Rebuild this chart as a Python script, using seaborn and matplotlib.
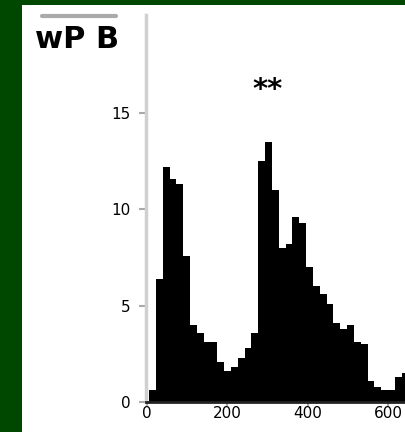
import numpy as np
import pandas as pd
import matplotlib
matplotlib.use("Agg")
import matplotlib.pyplot as plt
from matplotlib.patches import Rectangle
from matplotlib.lines import Line2D
import seaborn as sns

# histogram (bin width ~17, first bin at 5)
bin_start = 5
bin_width = 17
counts = [0.6, 6.4, 12.2, 11.6, 11.3, 7.6, 4.0, 3.6, 3.1, 3.1,
          2.1, 1.6, 1.8, 2.3, 2.8, 3.6, 12.5, 13.5, 11.0, 8.0,
          8.2, 9.6, 9.3, 7.0, 6.0, 5.6, 5.1, 4.1, 3.8, 4.0,
          3.1, 3.0, 1.1, 0.8, 0.6, 0.6, 1.3, 1.5, 2.0]
x_ticks = [0, 200, 400, 600]
y_ticks = [0, 5, 10, 15]
title = "wP B"
sig_label = "**"
sig_pos = (301, 16.2)

edges = bin_start + bin_width * np.arange(len(counts) + 1)
df = pd.DataFrame({"value": edges[:-1] + bin_width / 2, "count": counts})

sns.set_style("white")
fig = plt.figure(figsize=(4.05, 4.32), dpi=100)
fig.patch.set_facecolor("#004800")
fig.patches.append(Rectangle((22 / 405, 0), 1, 1 - 5 / 432, transform=fig.transFigure,
                             facecolor="white", edgecolor="none", zorder=-1))

ax = fig.add_axes([146 / 405, 1 - 402 / 432, 1 - 146 / 405, (402 - 15) / 432])
ax.set_zorder(2)
ax.set_facecolor("none")
sns.histplot(data=df, x="value", weights="count", binwidth=bin_width,
             binrange=(edges[0], edges[-1]), color="black", alpha=1,
             edgecolor="black", linewidth=0, ax=ax)

ax.set_xlim(-2.5, 642)
ax.set_ylim(0, 20.1)
ax.set_xticks(x_ticks)
ax.set_yticks(y_ticks)
ax.set_xlabel("")
ax.set_ylabel("")
ax.tick_params(axis="both", labelsize=11, labelcolor="black", length=5, width=1.5,
               color="#aaaaaa", left=True, bottom=True)
ax.tick_params(axis="y", pad=6)
ax.tick_params(axis="x", pad=0, length=3)
for s in ["top", "right"]:
    ax.spines[s].set_visible(False)
ax.spines["left"].set_color("#d0d0d0")
ax.spines["left"].set_linewidth(2.5)
ax.spines["bottom"].set_color("#222222")
ax.spines["bottom"].set_linewidth(2)

ax.text(sig_pos[0], sig_pos[1], sig_label, ha="center", va="center",
        fontsize=21, fontweight="bold", color="black")

fig.text(35 / 405, 1 - 39 / 432, title, ha="left", va="center",
         fontsize=22, fontweight="bold", color="black", zorder=3)
fig.lines.append(Line2D([42 / 405, 116 / 405], [1 - 16 / 432, 1 - 16 / 432],
                        transform=fig.transFigure, color="#aaaaaa", lw=3, zorder=3))

fig.savefig("out.png", dpi=100)
